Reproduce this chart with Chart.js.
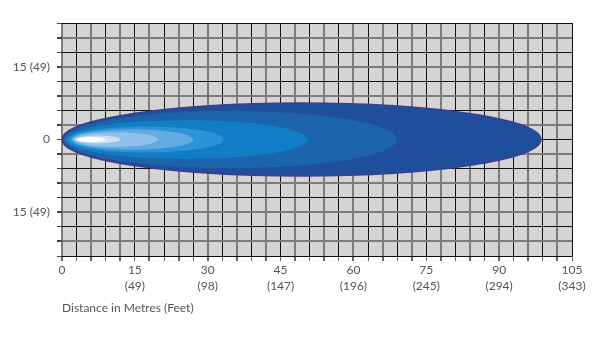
<!DOCTYPE html>
<html lang="en">
<head>
  <meta charset="UTF-8">
  <title>Beam Pattern</title>
  <script src="https://cdn.jsdelivr.net/npm/chart.js"></script>
  <style>
    body { margin: 0; background: #fff; }
    #wrap { width: 600px; height: 339px; }
  </style>
</head>
<body>
  <div id="wrap">
    <canvas id="beamChart" width="600" height="339"></canvas>
  </div>

  <script>
    // Tick labels sumbu X (meter + feet)
    const xTickMetres = [0, 15, 30, 45, 60, 75, 90, 105];
    const xTickFeet = ['', '(49)', '(98)', '(147)', '(196)', '(245)', '(294)', '(343)'];

    // Tick labels sumbu Y
    const yTickValues = [15, 0, -15];
    const yTickLabels = ['15 (49)', '0', '15 (49)'];

    // Lapisan beam (dari luar ke dalam): awal, akhir (m), setengah lebar (m)
    const beamStart = [0, 0.3, 0.6, 1.3, 2.0, 2.3, 2.7, 3.1];
    const beamEnd = [98.6, 69, 50.6, 33.3, 27, 19.8, 12, 8.9];
    const beamHalfWidth = [7.5, 5.9, 4.0, 2.7, 2.1, 1.5, 0.8, 0.5];
    const beamColors = ['#1f4f9a', '#1b63ab', '#117dc5', '#2c93d6', '#62aae1', '#8fc3ec', '#c8e2f6', '#ffffff'];

    const textColor = '#555555';
    const fontFamily = 'Lato, "Open Sans", sans-serif';

    // Background abu-abu untuk area grid
    const bgPlugin = {
      id: 'bgPlugin',
      beforeDraw(chart) {
        const a = chart.chartArea;
        const c = chart.ctx;
        c.save();
        c.fillStyle = '#d4d4d4';
        c.fillRect(a.left, a.top, a.right - a.left, a.bottom - a.top);
        c.restore();
      }
    };

    // Gambar ellips beam lewat skala chart
    const beamPlugin = {
      id: 'beamPlugin',
      beforeDatasetsDraw(chart) {
        const c = chart.ctx;
        const xs = chart.scales.x;
        const ys = chart.scales.y;
        const a = chart.chartArea;
        c.save();
        c.beginPath();
        c.rect(a.left, a.top, a.right - a.left, a.bottom - a.top);
        c.clip();
        beamStart.forEach((s, i) => {
          const x0 = xs.getPixelForValue(s);
          const x1 = xs.getPixelForValue(beamEnd[i]);
          const yc = ys.getPixelForValue(0);
          const ry = Math.abs(ys.getPixelForValue(beamHalfWidth[i]) - yc);
          c.beginPath();
          c.ellipse((x0 + x1) / 2, yc, (x1 - x0) / 2, ry, 0, 0, Math.PI * 2);
          c.fillStyle = beamColors[i];
          c.fill();
          if (i === 0) {
            c.lineWidth = 1.5;
            c.strokeStyle = '#3d3f8c';
            c.stroke();
          }
        });
        c.restore();
      }
    };

    const ctx = document.getElementById('beamChart').getContext('2d');
    const beamChart = new Chart(ctx, {
      type: 'scatter',
      data: { datasets: [] },
      plugins: [bgPlugin, beamPlugin],
      options: {
        responsive: false,
        animation: false,
        layout: { padding: { top: 23, right: 28, left: 0, bottom: 0 } },
        plugins: {
          legend: { display: false },
          tooltip: { enabled: false }
        },
        scales: {
          x: {
            type: 'linear',
            min: 0,
            max: 105,
            afterFit(scale) { scale.height = 83; },
            border: { display: false },
            grid: {
              drawTicks: true,
              tickLength: 5,
              tickColor: '#666',
              color: c => (Math.round(c.tick.value / 3) % 2 === 0) ? '#7c7c7c' : '#111111',
              lineWidth: c => (Math.round(c.tick.value / 3) % 2 === 0) ? 2 : 1
            },
            ticks: {
              stepSize: 3,
              autoSkip: false,
              maxRotation: 0,
              padding: 1,
              color: textColor,
              font: { family: fontFamily, size: 12, lineHeight: 1.33 },
              callback: value => {
                const i = xTickMetres.indexOf(value);
                if (i < 0) return '';
                return value === 0 ? '0' : [String(value), xTickFeet[i]];
              }
            },
            title: {
              display: true,
              text: 'Distance in Metres (Feet)',
              align: 'start',
              color: textColor,
              font: { family: fontFamily, size: 12 },
              padding: { top: 0, bottom: 24 }
            }
          },
          y: {
            type: 'linear',
            min: -24,
            max: 24,
            afterFit(scale) { scale.width = 62; },
            border: { display: false },
            grid: {
              tickLength: 5,
              tickColor: '#444',
              color: c => (Math.round((c.tick.value + 24) / 3) % 2 === 0) ? '#111111' : '#7c7c7c',
              lineWidth: c => (Math.round((c.tick.value + 24) / 3) % 2 === 0) ? 1 : 2
            },
            ticks: {
              stepSize: 3,
              autoSkip: false,
              padding: 7,
              color: textColor,
              font: { family: fontFamily, size: 12 },
              callback: value => {
                const i = yTickValues.indexOf(value);
                return i < 0 ? '' : yTickLabels[i];
              }
            }
          }
        }
      }
    });
  </script>
</body>
</html>
